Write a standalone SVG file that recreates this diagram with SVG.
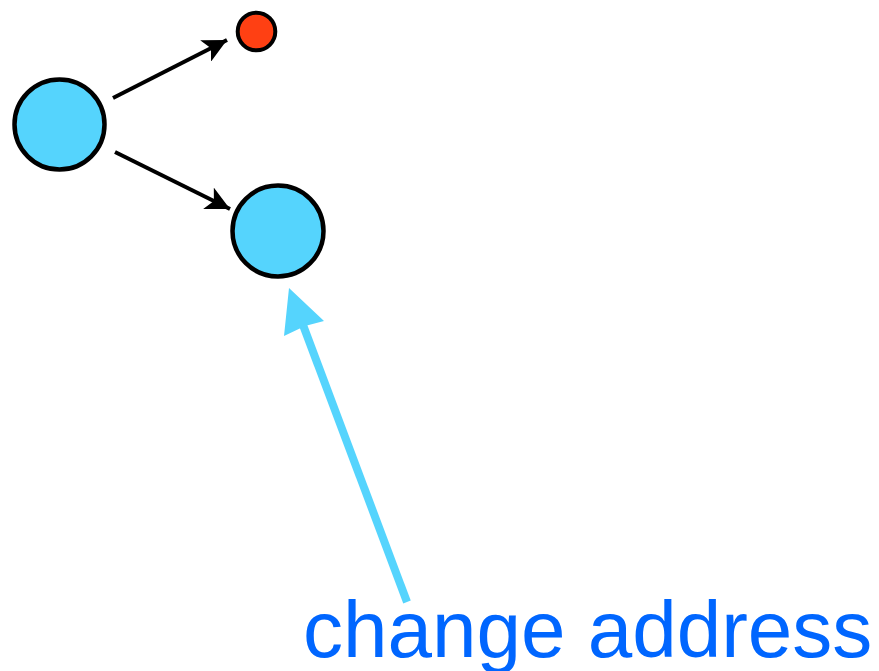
<svg xmlns="http://www.w3.org/2000/svg" width="879" height="671" viewBox="0 0 879 671">
<style>
.node{fill:#55D4FD;stroke:#000;stroke-width:4.5}
.red{fill:#FF4013;stroke:#000;stroke-width:4}
.edge{stroke:#000;stroke-width:4;fill:none}
.lbl{font-family:"Liberation Sans",Arial,sans-serif;font-size:80px;fill:#0066FF}
</style>
<defs>
<marker id="ah" viewBox="0 0 10 10" refX="10" refY="5" markerWidth="6" markerHeight="6" markerUnits="strokeWidth" orient="auto">
<path d="M0,0 L10,5 L0,10 L2.5,5 Z" fill="#000"/>
</marker>
</defs>
<rect width="879" height="671" fill="#fff"/>
<g id="node-a"><circle class="node" cx="59.5" cy="124.5" r="45"/></g>
<g id="node-b"><circle class="red" cx="256.5" cy="31.5" r="18.8"/></g>
<g id="node-c"><circle class="node" cx="278" cy="231" r="45.5"/></g>
<g id="connectors">
<line class="edge" x1="113" y1="98" x2="227" y2="40" marker-end="url(#ah)"/>
<line class="edge" x1="115" y1="152" x2="230" y2="209" marker-end="url(#ah)"/>
<line x1="407" y1="602" x2="300" y2="317" stroke="#55D4FD" stroke-width="8"/>
<path d="M289,288 L324,321 L305,326 L284,336 Z" fill="#55D4FD"/>
</g>
<g id="label"><text class="lbl" x="303" y="657">change address</text></g>
</svg>
